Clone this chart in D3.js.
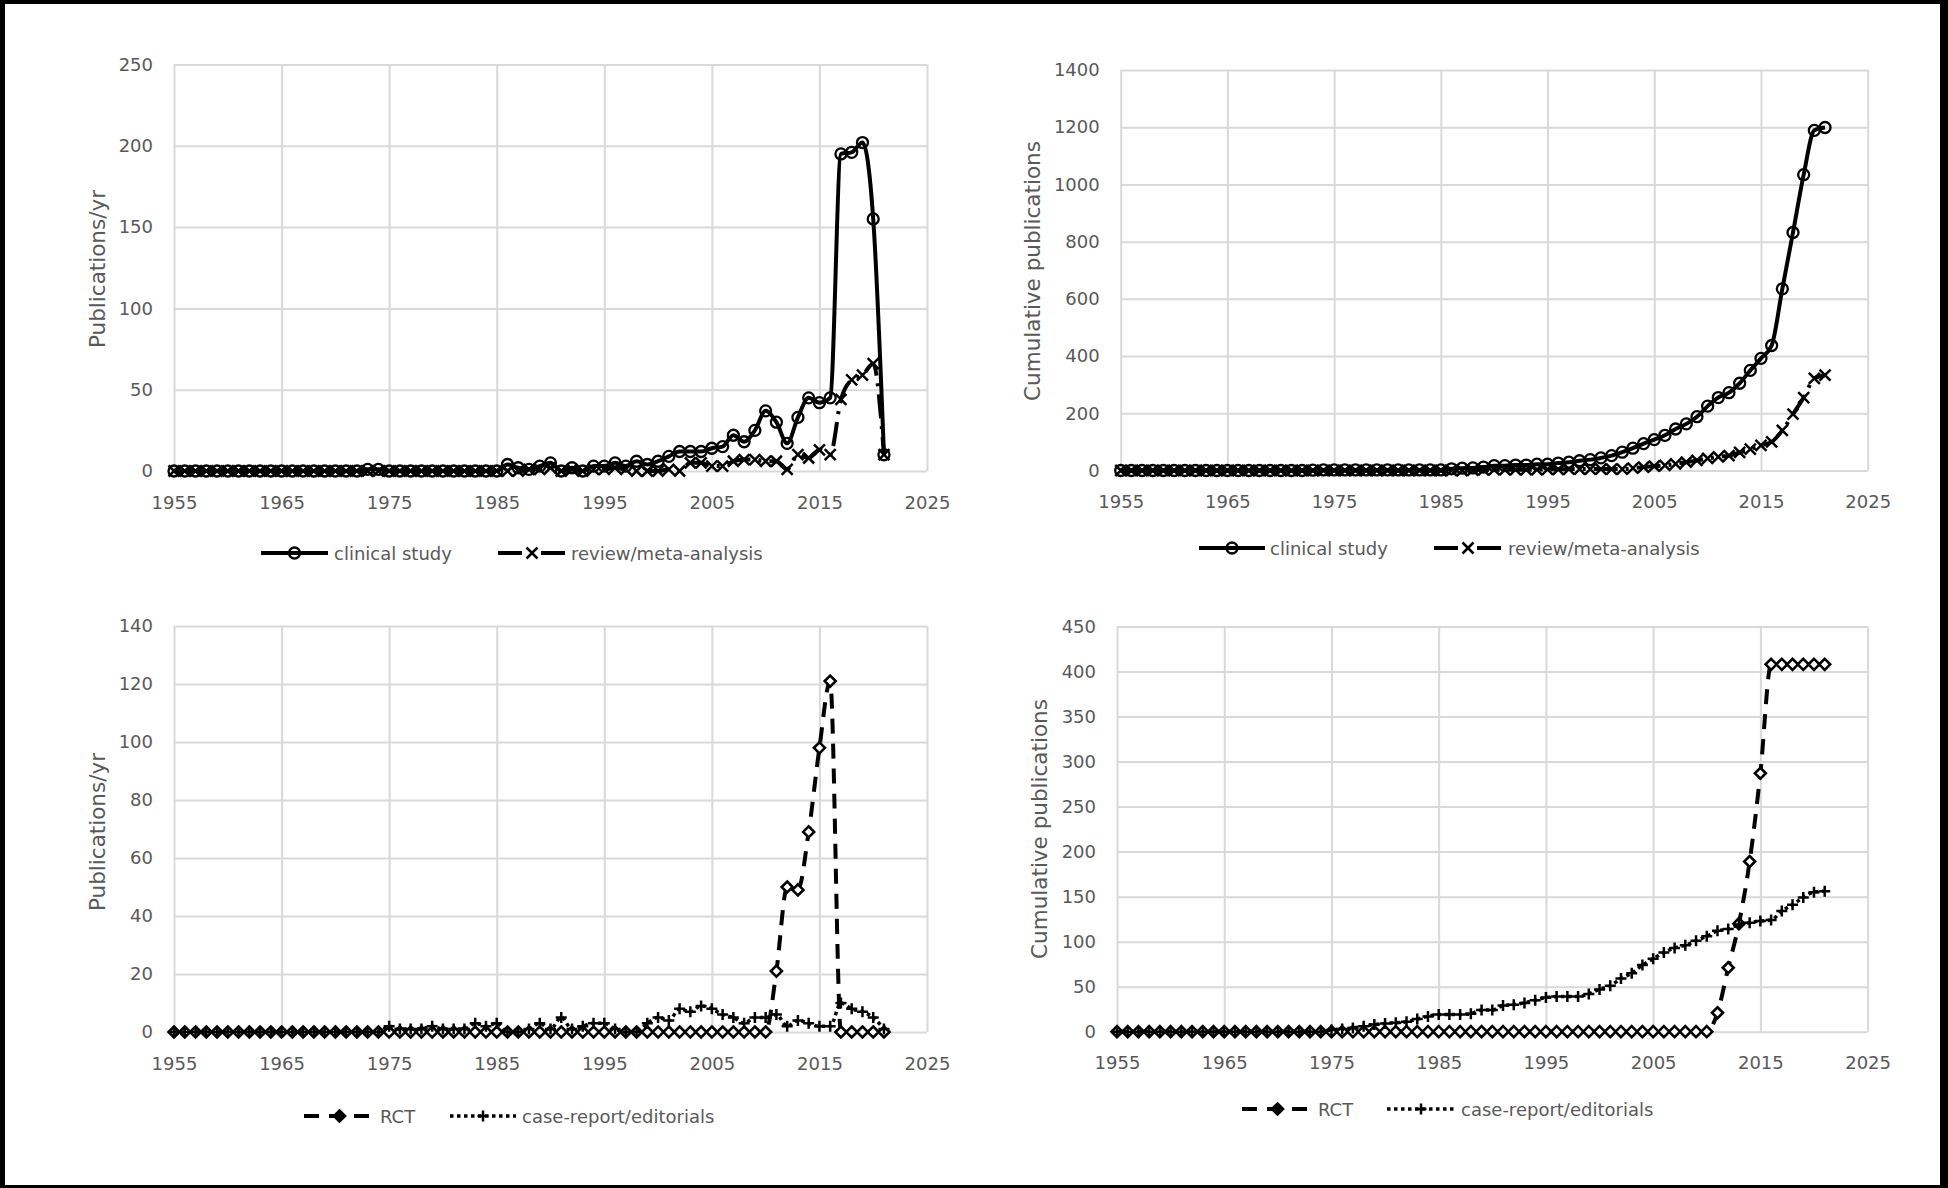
<!DOCTYPE html>
<meta charset="utf-8">
<style>
  body { margin: 0; background: #fff; }
  text { font-family: "DejaVu Sans", sans-serif; fill: #595959; }
  .axis path.domain { display: none; }
  .axis line { stroke: #d9d9d9; stroke-width: 2px; }
  .axis text { font-size: 18px; fill: #595959; font-family: "DejaVu Sans", sans-serif; }
  .ytitle { font-size: 21.5px; }
  .legend text { font-size: 18px; }
</style>
<body>
<script src="https://d3js.org/d3.v7.min.js"></script>
<script>
    // years 1955 .. 2021
    var years = d3.range(1955, 2022);

    var xTicks = [1955, 1965, 1975, 1985, 1995, 2005, 2015, 2025];
    var yTicksA = [0, 50, 100, 150, 200, 250];
    var yTicksB = [0, 200, 400, 600, 800, 1000, 1200, 1400];
    var yTicksC = [0, 20, 40, 60, 80, 100, 120, 140];
    var yTicksD = [0, 50, 100, 150, 200, 250, 300, 350, 400, 450];

    // publications per year
    var clinicalYr = [0,0,0,0,0,0,0,0,0,0,0,0,0,0,0,0,0,0,
        1,1,
        0,0,0,0,0,0,0,0,0,0,0,
        4,2,1,3,5,0,2,0,3,3,5,3,6,4,6,9,12,12,12,14,15,22,18,25,37,30,17,33,45,42,45,195,196,202,155,10];
    var reviewYr = [0,0,0,0,0,0,0,0,0,0,0,0,0,0,0,0,0,0,0,0,0,0,0,0,0,0,0,0,0,0,0,0,0,
        1,1,2,0,1,0,1,1,2,1,0,0,0,1,0,5,5,3,3,6,7,7,6,6,1,10,8,13,10,44,56,59,66,10];

    // cumulative publications
    var clinicalCum = [0,0,0,0,0,0,0,0,0,0,0,0,0,0,0,0,0,0,
        1,2,
        2,2,2,2,2,2,2,2,2,2,2,
        6,8,9,12,17,17,19,19,22,22,26,29,34,38,44,52,64,78,94,108,123,145,163,188,225,255,272,305,350,392,437,635,832,1034,1189,1199];
    var reviewCum = [0,0,0,0,0,0,0,0,0,0,0,0,0,0,0,0,0,0,0,0,0,0,0,0,0,0,0,0,0,0,0,0,0,
        1,2,3,3,3,3,3,4,4,5,5,5,5,5,5,8,12,15,18,23,29,35,42,48,52,63,75,88,100,140,197,255,322,333];

    // RCT and case-report per year
    var rctYr = [0,0,0,0,0,0,0,0,0,0,0,0,0,0,0,0,0,0,0,0,0,0,0,0,0,0,0,0,
        0,0,0,0,0,0,0,0,0,0,0,0,0,0,0,0,0,0,0,0,0,0,0,0,0,0,0,0,
        21,50,49,69,98,121,0,0,0,0,0];
    var caseYr = [0,0,0,0,0,0,0,0,0,0,0,0,0,0,0,0,0,0,0,0,
        2,1,1,1,2,1,1,1,3,2,3,0,0,1,3,1,5,1,2,3,3,1,0,0,3,5,4,8,7,9,8,6,5,3,5,5,6,2,4,3,2,2,10,8,7,5,1];

    // RCT and case-report cumulative
    var rctCum = [0,0,0,0,0,0,0,0,0,0,0,0,0,0,0,0,0,0,0,0,0,0,0,0,0,0,0,0,
        0,0,0,0,0,0,0,0,0,0,0,0,0,0,0,0,0,0,0,0,0,0,0,0,0,0,0,0,
        21,71,120,189,287,408,408,408,408,408,408];
    var caseCum = [0,0,0,0,0,0,0,0,0,0,0,0,0,0,0,0,0,0,0,0,
        2,3,4,6,8,9,10,11,14,17,19,19,19,20,24,24,29,30,32,35,38,39,39,39,42,47,51,59,65,74,81,88,93,96,101,106,112,114,119,121,123,124,134,141,149,155,156];

    var W = 1948, H = 1188;

    var svg = d3.select("body").append("svg")
        .attr("width", W)
        .attr("height", H);

    // black frame
    svg.append("rect").attr("width", W).attr("height", H).attr("fill", "#000");
    svg.append("rect").attr("x", 5).attr("y", 4)
        .attr("width", W - 13).attr("height", H - 7).attr("fill", "#fff");

    var styles = {
        clinical: {label: "clinical study", dash: null, width: 4, marker: "circle"},
        review:   {label: "review/meta-analysis", dash: "24,8,3,8", width: 4, marker: "x"},
        rct:      {label: "RCT", dash: "15,10", width: 4, marker: "diamond"},
        caserep:  {label: "case-report/editorials", dash: "3.5,3.5", width: 3.5, marker: "plus"}
    };

    function marker(g, type, cx, cy, inLegend) {
        if (type == "circle") {
            g.append("circle").attr("cx", cx).attr("cy", cy).attr("r", 5.5)
                .attr("fill", "none").attr("stroke", "#000").attr("stroke-width", 2.3);
        } else if (type == "x") {
            g.append("path").attr("transform", "translate(" + cx + "," + cy + ")")
                .attr("d", "M-5.5,-5.5L5.5,5.5M-5.5,5.5L5.5,-5.5")
                .attr("stroke", "#000").attr("stroke-width", 2.5).attr("fill", "none");
        } else if (type == "plus") {
            g.append("path").attr("transform", "translate(" + cx + "," + cy + ")")
                .attr("d", "M-5.5,0H5.5M0,-5.5V5.5")
                .attr("stroke", "#000").attr("stroke-width", 2.5).attr("fill", "none");
        } else if (type == "diamond") {
            g.append("path").attr("transform", "translate(" + cx + "," + cy + ")")
                .attr("d", "M0,-5.5L5.5,0L0,5.5L-5.5,0Z")
                .attr("fill", inLegend ? "#000" : "#fff")
                .attr("stroke", "#000").attr("stroke-width", 2.6);
        }
    }

    function panel(p) {
        var x = d3.scaleLinear().domain([1955, 2025]).range([p.left, p.right]);
        var y = d3.scaleLinear().domain([0, p.max]).range([p.bottom, p.top]);
        var g = svg.append("g");

        g.append("g")
            .attr("class", "axis")
            .attr("transform", "translate(0," + p.bottom + ")")
            .call(d3.axisBottom(x).tickValues(xTicks).tickFormat(d3.format("d"))
                .tickSize(-(p.bottom - p.top)).tickPadding(25));

        g.append("g")
            .attr("class", "axis")
            .attr("transform", "translate(" + p.left + ",0)")
            .call(d3.axisLeft(y).tickValues(p.yTicks).tickFormat(d3.format("d"))
                .tickSize(-(p.right - p.left)).tickPadding(21));

        g.append("text")
            .attr("class", "ytitle")
            .attr("transform", "translate(" + p.titleX + "," + p.titleY + ") rotate(-90)")
            .attr("text-anchor", "middle")
            .attr("dominant-baseline", "central")
            .text(p.title);

        var line = d3.line()
            .x(function(d) { return x(d.year); })
            .y(function(d) { return y(d.v); })
            .curve(d3.curveMonotoneX);

        p.series.forEach(function(s) {
            var st = styles[s.key];
            var data = years.map(function(yr, i) { return {year: yr, v: s.values[i]}; });
            g.append("path")
                .datum(data)
                .attr("d", line)
                .attr("fill", "none")
                .attr("stroke", "#000")
                .attr("stroke-width", st.width)
                .attr("stroke-dasharray", st.dash)
                .attr("stroke-linejoin", "round");
            var mg = g.append("g");
            data.forEach(function(d) { marker(mg, st.marker, x(d.year), y(d.v), false); });
        });

        // legend
        var lg = g.append("g").attr("class", "legend");
        p.series.forEach(function(s, i) {
            var st = styles[s.key], it = p.legend[i];
            lg.append("line")
                .attr("x1", it[0]).attr("x2", it[1])
                .attr("y1", p.legendY).attr("y2", p.legendY)
                .attr("stroke", "#000")
                .attr("stroke-width", st.width)
                .attr("stroke-dasharray", st.dash);
            marker(lg, st.marker, (it[0] + it[1]) / 2, p.legendY, true);
            lg.append("text")
                .attr("x", it[2]).attr("y", p.legendY)
                .attr("dominant-baseline", "central")
                .text(st.label);
        });
    }

    panel({left: 174, right: 927, top: 64.5, bottom: 471, max: 250, yTicks: yTicksA,
        title: "Publications/yr", titleX: 97, titleY: 269,
        series: [{key: "clinical", values: clinicalYr}, {key: "review", values: reviewYr}],
        legendY: 553, legend: [[261, 328, 334], [498, 566, 571]]});

    panel({left: 1120.7, right: 1867.7, top: 70, bottom: 470.5, max: 1400, yTicks: yTicksB,
        title: "Cumulative publications", titleX: 1032, titleY: 271,
        series: [{key: "clinical", values: clinicalCum}, {key: "review", values: reviewCum}],
        legendY: 548, legend: [[1199, 1265, 1270], [1434, 1502, 1508]]});

    panel({left: 174, right: 927, top: 626, bottom: 1032, max: 140, yTicks: yTicksC,
        title: "Publications/yr", titleX: 97, titleY: 832,
        series: [{key: "rct", values: rctYr}, {key: "caserep", values: caseYr}],
        legendY: 1116, legend: [[304, 375, 380], [450, 516, 522]]});

    panel({left: 1117, right: 1867.6, top: 626.5, bottom: 1031.7, max: 450, yTicks: yTicksD,
        title: "Cumulative publications", titleX: 1039, titleY: 829,
        series: [{key: "rct", values: rctCum}, {key: "caserep", values: caseCum}],
        legendY: 1109, legend: [[1242, 1313, 1318], [1387, 1455, 1461]]});
</script>
</body>
